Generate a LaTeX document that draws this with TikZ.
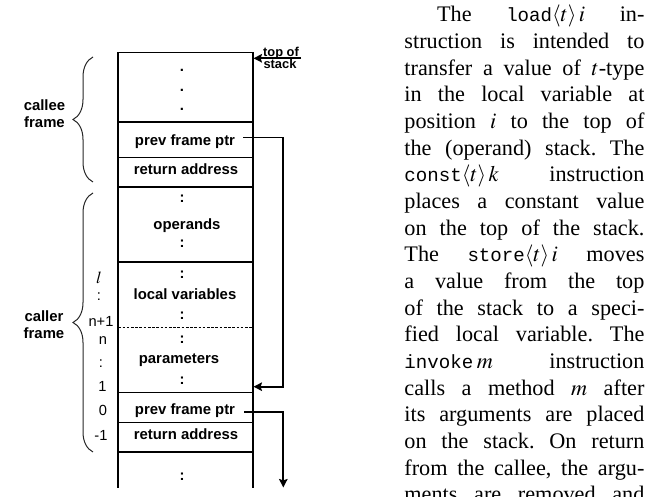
\documentclass[tikz,border=0pt]{standalone}
\usepackage{mathptmx}
\usepackage{fontspec}
\setmainfont{Liberation Serif}
\setmonofont{Liberation Mono}
\newfontfamily\labfont{Liberation Sans}
\usetikzlibrary{decorations.pathreplacing,arrows.meta}
\newcommand\mycode[1]{{\fontsize{8.6pt}{12pt}\selectfont\ttfamily #1}}
\tikzset{
  lab/.style={font=\labfont\bfseries\fontsize{6.7pt}{8pt}\selectfont, inner sep=0pt},
  idx/.style={font=\labfont\fontsize{6.6pt}{8pt}\selectfont, inner sep=0pt},
  side/.style={font=\labfont\bfseries\fontsize{6.7pt}{7.7pt}\selectfont, inner sep=0pt, align=center},
  tos/.style={font=\labfont\bfseries\fontsize{5.8pt}{7pt}\selectfont, inner sep=0pt},
  wall/.style={line width=0.8pt},
  divider/.style={line width=0.5pt},
  framesep/.style={line width=0.95pt},
  dashsep/.style={line width=0.6pt, dash pattern=on 1.2pt off 0.7pt},
  conn/.style={line width=0.8pt, -{Stealth[length=3.8pt,width=3.8pt,inset=0.6pt]}},
  bracestyle/.style={line width=0.45pt, black!85, decorate, decoration={brace, amplitude=9pt}}
}
\begin{document}
\begin{tikzpicture}[x=0.45pt,y=-0.45pt]
\useasboundingbox (0,0) rectangle (649,497);

% stack walls
\draw[wall] (118.3,52.3) -- (118.3,488);
\draw[wall] (252.7,52.3) -- (252.7,488);
% horizontal lines
\draw[line width=0.7pt] (118.3,52.3) -- (252.7,52.3);
\draw[divider] (118.3,122) -- (252.7,122);
\draw[divider] (118.3,157.3) -- (252.7,157.3);
\draw[framesep] (118.3,186.8) -- (252.7,186.8);
\draw[divider] (118.3,262) -- (252.7,262);
\draw[dashsep] (118.3,327.3) -- (252.7,327.3);
\draw[divider] (118.3,392.3) -- (252.7,392.3);
\draw[divider] (118.3,422.3) -- (252.7,422.3);
\draw[framesep] (118.3,452) -- (252.7,452);

% callee frame cells
\node[lab] (d1) at (182,70) {.};
\node[lab] (d2) at (182,90) {.};
\node[lab] (d3) at (182,109) {.};
\node[lab, anchor=base] (pfp1) at (185,145.5) {prev frame ptr};
\node[lab, anchor=base] (ra1) at (186,175) {return address};

% caller frame cells
\node[lab] (c1) at (182,199) {:};
\node[lab, anchor=base] (ops) at (187,230) {operands};
\node[lab] (c2) at (182,244) {:};
\node[lab] (c3) at (182,275) {:};
\node[lab, anchor=base] (lv) at (185,299.5) {local variables};
\node[lab] (c4) at (182,316) {:};
\node[lab] (c5) at (182,340) {:};
\node[lab, anchor=base] (par) at (179,364) {parameters};
\node[lab] (c6) at (182,381) {:};
\node[lab, anchor=base] (pfp2) at (185,415) {prev frame ptr};
\node[lab, anchor=base] (ra2) at (186,440) {return address};
\node[lab] (c7) at (182,477) {:};

% index labels
\node[idx] (il) at (99,278) {\fontsize{7.6pt}{8pt}\selectfont$l$};
\node[idx] (icol1) at (99,296.7) {:};
\node[idx] (in1) at (101,321.7) {n+1};
\node[idx] (in) at (103,341) {n};
\node[idx] (icol2) at (101,364) {:};
\node[idx] (i1) at (102.5,386.7) {1};
\node[idx] (i0) at (103,410) {0};
\node[idx] (im1) at (101,435) {-1};

% braces and frame labels
\draw[bracestyle] (93,182) -- (93,57);
\draw[bracestyle] (93,452) -- (93,193);
\node[side] (callee) at (44.5,114) {callee\\frame};
\node[side] (caller) at (44,325) {caller\\frame};

% top of stack
\node[tos, anchor=base] (top) at (281,56.3) {top of};
\node[tos, anchor=base] (stk) at (280,68.5) {stack};
\coordinate (tosstart) at (301,58.3);
\coordinate (tosend) at (253.5,58.3);
\draw[conn] (tosstart) -- (tosend);

% prev frame pointer links
\coordinate (p1start) at (243,137.5);
\coordinate (p1turn) at (283.3,137.5);
\coordinate (p1end) at (253.5,386.7);
\draw[conn] (p1start) -- (p1turn) |- (p1end);
\coordinate (p2start) at (244,412);
\coordinate (p2turn) at (283.3,412);
\coordinate (p2end) at (283.3,487.5);
\draw[conn] (p2start) -- (p2turn) -- (p2end);

% running text
\node[anchor=base west, inner sep=0pt] (para) at (404,21.7) {\parbox[t]{108pt}{%
\fontsize{10pt}{12pt}\selectfont\frenchspacing
\tolerance=10000 \pretolerance=-1 \hyphenpenalty=10000 \exhyphenpenalty=10000
\parfillskip=0pt \parindent=0pt \rightskip=0pt
\noindent\hspace*{14.7pt}The \mycode{load}$\langle t\rangle\,i$ in-\linebreak
struction is intended to\linebreak
transfer a value of $t$-type\linebreak
in the local variable at\linebreak
position $i$ to the top of\linebreak
the (operand) stack. The\linebreak
\mycode{const}$\langle t\rangle\,k$ instruction\linebreak
places a constant value\linebreak
on the top of the stack.\linebreak
The \mycode{store}$\langle t\rangle\,i$ moves\linebreak
a value from the top\linebreak
of the stack to a speci-\linebreak
fied local variable. The\linebreak
\mycode{invoke}\,$m$ instruction\linebreak
calls a method $m$ after\linebreak
its arguments are placed\linebreak
on the stack. On return\linebreak
from the callee, the argu-\linebreak
ments are removed and}};
\end{tikzpicture}
\end{document}
